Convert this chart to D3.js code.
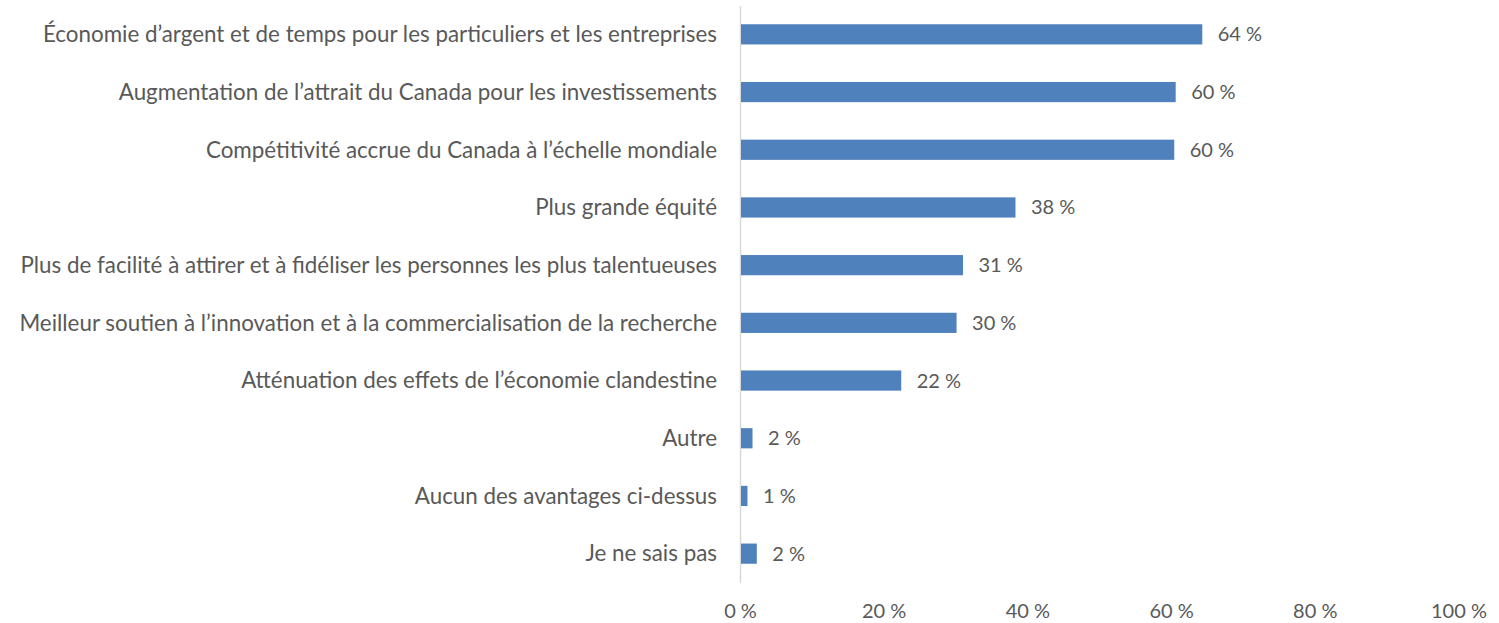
<!DOCTYPE html>
<html>
<head>
<meta charset="utf-8">
<script src="https://cdn.jsdelivr.net/npm/d3@7"></script>
<style>
  body { margin: 0; background: #fff; }
  text { font-family: Lato, "Open Sans", sans-serif; fill: #595959; }
</style>
</head>
<body>
<svg id="chart"></svg>
<script>
const categories = [
  "Économie d’argent et de temps pour les particuliers et les entreprises",
  "Augmentation de l’attrait du Canada pour les investissements",
  "Compétitivité accrue du Canada à l’échelle mondiale",
  "Plus grande équité",
  "Plus de facilité à attirer et à fidéliser les personnes les plus talentueuses",
  "Meilleur soutien à l’innovation et à la commercialisation de la recherche",
  "Atténuation des effets de l’économie clandestine",
  "Autre",
  "Aucun des avantages ci-dessus",
  "Je ne sais pas"
];
const values = [0.642, 0.605, 0.603, 0.382, 0.309, 0.300, 0.223, 0.016, 0.009, 0.022];
const valueLabels = ["64 %", "60 %", "60 %", "38 %", "31 %", "30 %", "22 %", "2 %", "1 %", "2 %"];
const ticks = [0, 0.2, 0.4, 0.6, 0.8, 1];
const tickLabels = ["0 %", "20 %", "40 %", "60 %", "80 %", "100 %"];

const width = 1499, height = 623;
const svg = d3.select("#chart").attr("width", width).attr("height", height);

const x = d3.scaleLinear().domain([0, 1]).range([740.5, 1459]);
const y = d3.scaleBand().domain(categories).range([5.5, 582.5])
  .paddingInner(0.65).paddingOuter(0.325);

// axis line
svg.append("line")
  .attr("x1", x(0)).attr("x2", x(0))
  .attr("y1", 6).attr("y2", 583)
  .attr("stroke", "#d9d9d9").attr("stroke-width", 1.5);

svg.selectAll("rect.bar")
  .data(values)
  .enter().append("rect")
  .attr("class", "bar")
  .attr("x", x(0) + 0.5)
  .attr("y", (d, i) => y(categories[i]))
  .attr("width", d => x(d) - x(0))
  .attr("height", y.bandwidth())
  .attr("fill", "#4f81bd");

svg.selectAll("text.val")
  .data(values)
  .enter().append("text")
  .attr("class", "val")
  .attr("x", d => x(d) + 16)
  .attr("y", (d, i) => y(categories[i]) + y.bandwidth() / 2)
  .attr("dy", "0.35em")
  .style("font-size", "20px")
  .text((d, i) => valueLabels[i]);

const catText = svg.selectAll("text.cat")
  .data(categories)
  .enter().append("text")
  .attr("class", "cat")
  .attr("x", 717)
  .attr("y", d => y(d) + y.bandwidth() / 2)
  .attr("dy", "0.35em")
  .attr("text-anchor", "end")
  .style("font-size", "20px")
  .text(d => d);

// the longest label spans about 698px in the reference
let longest = d3.max(catText.nodes(), n => n.getComputedTextLength());
let fs = 20 * 698 / longest;
catText.style("font-size", fs + "px");

svg.selectAll("text.tick")
  .data(ticks)
  .enter().append("text")
  .attr("class", "tick")
  .attr("x", d => x(d))
  .attr("y", 611)
  .attr("dy", "0.35em")
  .attr("text-anchor", "middle")
  .style("font-size", "20px")
  .text((d, i) => tickLabels[i]);
</script>
</body>
</html>
